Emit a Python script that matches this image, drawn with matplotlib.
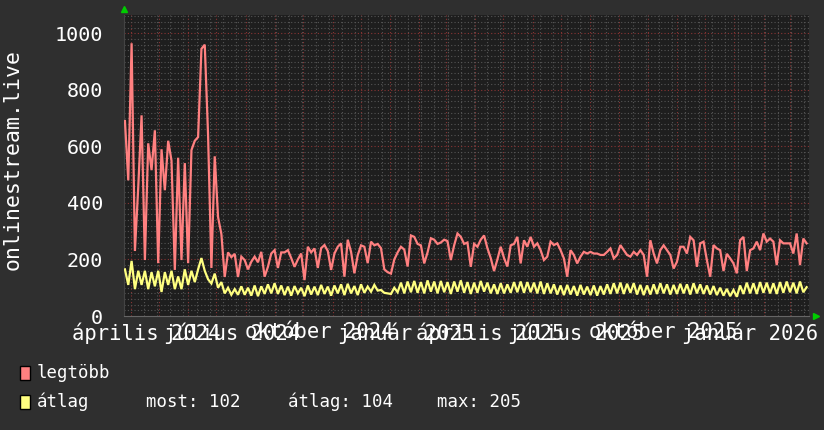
import pandas as pd
import matplotlib.pyplot as plt
import matplotlib.dates as mdates
from matplotlib.patches import Rectangle
from matplotlib.ticker import MultipleLocator, FixedLocator

# ── data (one value every ~3.5 days) ─────────────────────────────────────────
legtobb = [
    690, 480, 965, 230, 456, 710, 198, 611, 516, 657, 187, 590, 445, 620, 550, 163,
    560, 198, 541, 187, 587, 620, 633, 945, 960, 640, 170, 565, 350, 290, 138, 225,
    208, 220, 138, 210, 198, 165, 192, 210, 190, 227, 139, 174, 221, 233, 170, 225,
    225, 233, 205, 174, 200, 221, 127, 245, 225, 239, 170, 240, 251, 230, 163, 221,
    245, 257, 139, 270, 227, 151, 215, 250, 245, 187, 263, 250, 255, 240, 165, 155,
    150, 200, 225, 245, 235, 175, 285, 280, 255, 250, 186, 225, 275, 270, 255, 260,
    270, 265, 198, 250, 292, 280, 255, 260, 174, 255, 245, 270, 285, 240, 205, 159,
    200, 245, 205, 175, 250, 255, 280, 186, 268, 245, 280, 245, 257, 233, 198, 210,
    263, 251, 257, 233, 204, 139, 233, 216, 186, 210, 227, 221, 227, 221, 221, 216,
    216, 227, 239, 204, 216, 251, 233, 216, 210, 227, 216, 233, 216, 139, 268, 221,
    186, 233, 250, 233, 216, 168, 192, 245, 245, 221, 280, 268, 174, 257, 263, 198,
    139, 251, 239, 233, 159, 220, 204, 186, 151, 268, 280, 159, 233, 239, 263, 233,
    292, 263, 274, 263, 180, 268, 257, 257, 257, 221, 292, 180, 274, 257,
]
atlag = [
    165, 110, 195, 95, 160, 110, 160, 95, 155, 105, 160, 85, 155, 110, 160, 95,
    140, 95, 165, 110, 160, 120, 165, 205, 160, 130, 115, 150, 100, 120, 80, 100,
    75, 95, 75, 105, 75, 100, 72, 108, 70, 105, 78, 112, 80, 116, 78, 108,
    74, 104, 72, 106, 80, 100, 70, 108, 76, 104, 74, 110, 78, 104, 72, 108,
    80, 112, 74, 114, 80, 106, 74, 112, 82, 104, 86, 110, 90, 92, 82, 80,
    78, 100, 84, 118, 80, 122, 84, 124, 82, 120, 80, 126, 86, 122, 80, 124,
    84, 120, 78, 122, 86, 126, 82, 120, 78, 118, 82, 124, 86, 118, 80, 112,
    78, 116, 80, 112, 82, 120, 84, 122, 82, 120, 84, 118, 80, 122, 78, 116,
    80, 112, 76, 108, 74, 110, 76, 106, 72, 110, 76, 104, 74, 108, 72, 106,
    76, 112, 78, 116, 80, 118, 78, 114, 82, 116, 76, 110, 74, 108, 76, 112,
    78, 116, 80, 112, 76, 110, 78, 114, 80, 112, 76, 116, 80, 112, 78, 108,
    76, 106, 74, 100, 72, 96, 70, 92, 68, 108, 78, 118, 80, 116, 78, 120,
    82, 118, 80, 116, 78, 120, 82, 122, 84, 118, 80, 122, 84, 102,
]
first_day, last_day = '2024-03-26', '2026-03-18 12:00'
view_start, view_end = '2024-03-25', '2026-03-21'

label_months = ['2024-04-01', '2024-07-01', '2024-10-01', '2025-01-01',
                '2025-04-01', '2025-07-01', '2025-10-01', '2026-01-01']
label_texts = ['április 2024', 'július 2024', 'október 2024', 'január 2025',
               'április 2025', 'július 2025', 'október 2025', 'január 2026']
y_title = 'onlinestream.live'
series_names = ['legtöbb', 'átlag']
stats = ['most: 102', 'átlag: 104', 'max: 205']

RED = '#ff8080'
YEL = '#ffff80'
BG = '#2f2f2f'
PLOT_BG = '#1e1e1e'

plt.rcParams['font.family'] = 'DejaVu Sans Mono'

W, H = 824, 430
fig = plt.figure(figsize=(W / 100, H / 100), dpi=100, facecolor=BG)
ax = fig.add_axes([124 / W, 114 / H, 685 / W, 301 / H])
ax.set_facecolor(PLOT_BG)

dates = pd.date_range(first_day, last_day, periods=len(legtobb))
ax.plot(dates, legtobb, color=RED, lw=1.6, solid_joinstyle='miter', zorder=3)
ax.plot(dates, atlag, color=YEL, lw=1.6, solid_joinstyle='miter', zorder=3)

ax.set_xlim(pd.Timestamp(view_start), pd.Timestamp(view_end))
ax.set_ylim(0, 1065)

# grid: minor every 20 / two weeks, major every 200 / month
ax.yaxis.set_major_locator(MultipleLocator(200))
ax.yaxis.set_minor_locator(MultipleLocator(20))
ax.xaxis.set_major_locator(mdates.MonthLocator())
biweekly = pd.date_range('2024-04-01', view_end, freq='14D')
ax.xaxis.set_minor_locator(FixedLocator(mdates.date2num(biweekly)))
ax.grid(which='minor', color='#555555', ls=(0, (1, 2)), lw=0.8)
ax.grid(which='major', color='#8a3434', ls=(0, (1, 2)), lw=0.8)
ax.set_axisbelow(True)

ax.tick_params(axis='y', which='both', length=0, pad=15, labelsize=14.5, labelcolor='white')
ax.tick_params(axis='x', which='both', length=0, labelbottom=False)
ax.set_yticks([0, 200, 400, 600, 800, 1000])

for s in ax.spines.values():
    s.set_visible(False)
ax.spines['bottom'].set_visible(True)
ax.spines['bottom'].set_color('#666666')
ax.spines['left'].set_visible(True)
ax.spines['left'].set_color('#444444')

# month labels (placed a bit after the month start, like rrdtool)
for m, t in zip(label_months, label_texts):
    pos = pd.Timestamp(m) + pd.Timedelta(days=16.5)
    ax.text(pos, -0.02, t, transform=ax.get_xaxis_transform(), ha='center', va='top',
            fontsize=14.8, color='white', clip_on=False)

# rrdtool style arrows
ax.plot([0], [1.02], marker='^', ms=5, color='#00cc00', transform=ax.transAxes, clip_on=False)
ax.plot([1.01], [0], marker='>', ms=5, color='#00cc00', transform=ax.transAxes, clip_on=False)

fig.text(13 / W, 1 - 160 / H, y_title, rotation=90, ha='center', va='center',
         fontsize=15.5, color='white')

# legend
for row, (name, col) in enumerate(zip(series_names, [RED, YEL])):
    yc = 1 - (373 + 29 * row) / H
    fig.patches.append(Rectangle((20 / W, yc - 7 / H), 10 / W, 14 / H, transform=fig.transFigure,
                                 facecolor=col, edgecolor='black', lw=1))
    fig.text(37 / W, yc, name, ha='left', va='center', fontsize=12.5, color='white')

for xs, txt in zip([146, 288, 437], stats):
    fig.text(xs / W, 1 - 402 / H, txt, ha='left', va='center', fontsize=12.5, color='white')

plt.savefig('out.png', dpi=100, facecolor=BG)
